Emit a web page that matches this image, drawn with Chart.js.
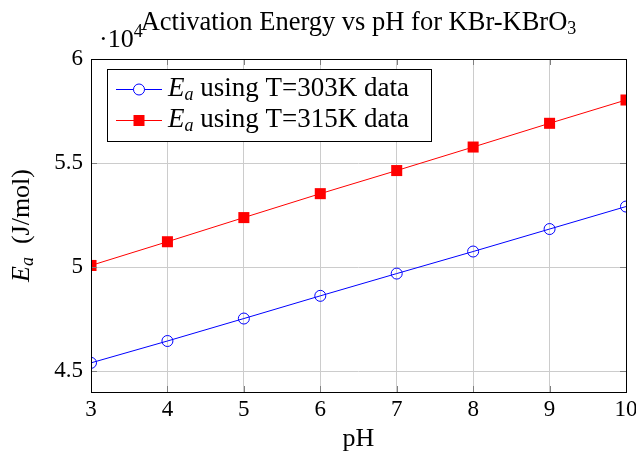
<!DOCTYPE html>
<html>
<head>
<meta charset="utf-8">
<script src="https://cdn.jsdelivr.net/npm/chart.js@4"></script>
<style>
  body { margin: 0; background: #fff; }
  canvas { display: block; }
</style>
</head>
<body>
<canvas id="eaChart" width="636" height="453"></canvas>
<script>
// values
var phValues = [3, 4, 5, 6, 7, 8, 9, 10];
var ea303 = [45400, 46450, 47530, 48620, 49690, 50750, 51830, 52910];
var ea315 = [50080, 51220, 52380, 53530, 54640, 55770, 56910, 58030];
var yTickValues = [45000, 50000, 55000, 60000];
var seriesText = ['using T=303K data', 'using T=315K data'];
var titleText = 'Activation Energy vs pH for KBr-KBrO';

var FONT = '"Liberation Serif", "DejaVu Serif", serif';
var FS = 26, FS_TITLE = 26.5, FS_LEG = 27, FS_TICK = 23, FS_SMALL = 18;

function setFont(ctx, s) {
  ctx.font = (s.italic ? 'italic ' : '') + s.size + 'px ' + FONT;
}

function drawRich(ctx, segs, x, y, align) {
  var w = 0;
  segs.forEach(function (s) { setFont(ctx, s); w += ctx.measureText(s.t).width; });
  var cx = align === 'center' ? x - w / 2 : (align === 'right' ? x - w : x);
  ctx.textAlign = 'left';
  ctx.textBaseline = 'alphabetic';
  segs.forEach(function (s) {
    setFont(ctx, s);
    ctx.fillText(s.t, cx, y + (s.dy || 0));
    cx += ctx.measureText(s.t).width;
  });
}

function eaSegs(rest, size) {
  return [
    { t: 'E', size: size, italic: true },
    { t: 'a', size: FS_SMALL, italic: true, dy: 4 },
    { t: rest, size: size }
  ];
}

var decor = {
  id: 'decor',
  afterDraw: function (chart) {
    var ctx = chart.ctx, a = chart.chartArea;
    var xs = chart.scales.x, ys = chart.scales.y;
    ctx.save();

    // inner tick marks
    ctx.strokeStyle = '#7f7f7f';
    ctx.lineWidth = 1;
    ctx.beginPath();
    xs.ticks.forEach(function (t) {
      var px = Math.round(xs.getPixelForValue(t.value)) + 0.5;
      ctx.moveTo(px, a.bottom); ctx.lineTo(px, a.bottom - 6);
      ctx.moveTo(px, a.top); ctx.lineTo(px, a.top + 6);
    });
    ys.ticks.forEach(function (t) {
      var py = Math.round(ys.getPixelForValue(t.value)) + 0.5;
      ctx.moveTo(a.left, py); ctx.lineTo(a.left + 6, py);
      ctx.moveTo(a.right, py); ctx.lineTo(a.right - 6, py);
    });
    ctx.stroke();

    // frame
    ctx.strokeStyle = '#000';
    ctx.strokeRect(Math.round(a.left) + 0.5, Math.round(a.top) + 0.5,
      Math.round(a.right - a.left), Math.round(a.bottom - a.top));

    ctx.fillStyle = '#000';
    // title
    drawRich(ctx, [{ t: titleText, size: FS_TITLE }, { t: '3', size: FS_SMALL, dy: 4 }],
      (a.left + a.right) / 2, 30, 'center');
    // scale factor
    drawRich(ctx, [{ t: '\u00b710', size: FS }, { t: '4', size: FS_SMALL, dy: -10 }], 99, 47, 'left');

    // y axis title
    ctx.save();
    ctx.translate(29, (a.top + a.bottom) / 2);
    ctx.rotate(-Math.PI / 2);
    drawRich(ctx, eaSegs('  (J/mol)', FS), 0, 0, 'center');
    ctx.restore();

    // legend
    ctx.fillStyle = '#fff';
    ctx.fillRect(107.5, 69.5, 324, 72);
    ctx.strokeStyle = '#000';
    ctx.strokeRect(107.5, 69.5, 324, 72);
    var ds = chart.data.datasets;
    [89, 120].forEach(function (cy, i) {
      var d = ds[i];
      ctx.strokeStyle = d.borderColor;
      ctx.lineWidth = 1;
      ctx.beginPath();
      ctx.moveTo(116, cy + 0.5); ctx.lineTo(162, cy + 0.5);
      ctx.stroke();
      if (d.pointStyle === 'circle') {
        ctx.fillStyle = '#fff';
        ctx.beginPath();
        ctx.arc(139, cy + 0.5, 5.5, 0, Math.PI * 2);
        ctx.fill();
        ctx.stroke();
      } else {
        ctx.fillStyle = d.backgroundColor;
        ctx.fillRect(133.5, cy - 5, 11, 11);
      }
      ctx.fillStyle = '#000';
      drawRich(ctx, eaSegs(' ' + seriesText[i], FS_LEG), 168, cy + 7, 'left');
    });
    ctx.restore();
  }
};

new Chart(document.getElementById('eaChart'), {
  type: 'line',
  data: {
    datasets: [{
      label: seriesText[0],
      data: phValues.map(function (p, i) { return { x: p, y: ea303[i] }; }),
      borderColor: '#0000ff',
      backgroundColor: 'rgba(255,255,255,0)',
      borderWidth: 1,
      pointStyle: 'circle',
      pointRadius: 5.5,
      pointBorderWidth: 1,
      pointBorderColor: '#0000ff',
      pointBackgroundColor: 'rgba(255,255,255,0)',
      tension: 0
    }, {
      label: seriesText[1],
      data: phValues.map(function (p, i) { return { x: p, y: ea315[i] }; }),
      borderColor: '#ff0000',
      backgroundColor: '#ff0000',
      borderWidth: 1,
      pointStyle: 'rect',
      pointRadius: 7.8,
      pointBorderWidth: 0,
      pointBackgroundColor: '#ff0000',
      tension: 0
    }]
  },
  options: {
    responsive: false,
    animation: false,
    layout: { padding: { top: 59, right: 10, left: 0, bottom: 0 } },
    plugins: { legend: { display: false }, title: { display: false }, tooltip: { enabled: false } },
    scales: {
      x: {
        type: 'linear',
        min: 3,
        max: 10,
        ticks: { stepSize: 1, color: '#000', padding: 4, font: { family: FONT, size: FS_TICK } },
        grid: { color: '#cccccc', drawTicks: false },
        border: { display: false },
        title: { display: true, text: 'pH', color: '#000', font: { family: FONT, size: FS }, padding: { top: 0, bottom: -2 } },
        afterFit: function (s) { s.height = 61; s.paddingLeft = 0; s.paddingRight = 0; }
      },
      y: {
        type: 'linear',
        min: 44000,
        max: 60000,
        afterBuildTicks: function (s) {
          s.ticks = yTickValues.map(function (v) { return { value: v }; });
        },
        ticks: {
          color: '#000', padding: 8, font: { family: FONT, size: FS_TICK },
          callback: function (v) { return String(v / 1e4); }
        },
        grid: { color: '#cccccc', drawTicks: false },
        border: { display: false },
        afterFit: function (s) { s.width = 91; s.paddingTop = 0; s.paddingBottom = 0; }
      }
    }
  },
  plugins: [decor]
});
</script>
</body>
</html>
